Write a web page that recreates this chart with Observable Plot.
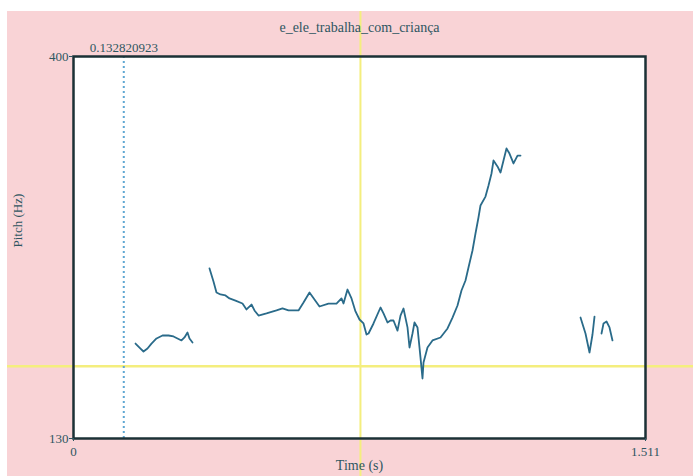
<!DOCTYPE html>
<html>
<head>
<meta charset="utf-8">
<script src="https://cdn.jsdelivr.net/npm/d3@7"></script>
<script src="https://cdn.jsdelivr.net/npm/@observablehq/plot@0.6"></script>
<style>
  html, body { margin: 0; padding: 0; background: #fff; }
  #chart svg {
    display: block;
    overflow: visible !important;
    background:
      linear-gradient(#fff, #fff) 0 0 / 100% 11px no-repeat,
      linear-gradient(#fff, #fff) 0 0 / 7px 100% no-repeat,
      #f9d3d6 !important;
    font-family: 'Liberation Serif', 'DejaVu Serif', serif !important;
    color: #2e5661 !important;
  }
  #chart svg text { font-family: 'Liberation Serif', 'DejaVu Serif', serif !important; }
</style>
</head>
<body>
<div id="chart"></div>
<script>
// ---- data ----
const title = "e_ele_trabalha_com_criança";
const xDomain = [0, 1.511];
const yDomain = [130, 400];
const xTicks = [0, 1.511];
const yTicks = [130, 400];
const selectionTime = 0.132820923;
const selectionLabel = "0.132820923";
const cursorTime = 0.758;
const cursorPitch = 181;

const seg1Time  = [0.1638, 0.1770, 0.1849, 0.1955, 0.2060, 0.2193, 0.2351, 0.2510, 0.2642, 0.2747, 0.2853, 0.2932, 0.3011, 0.3064, 0.3144];
const seg1Pitch = [197.1, 193.6, 191.5, 193.6, 197.1, 200.7, 202.8, 202.8, 202.1, 200.7, 199.3, 201.4, 204.9, 200.7, 197.9];

const seg2Time  = [0.3593, 0.3698, 0.3777, 0.3883, 0.4015, 0.4121, 0.4279, 0.4464, 0.4570, 0.4702, 0.4781, 0.4887, 0.5098, 0.5362, 0.5521, 0.5679, 0.5944, 0.6076, 0.6234, 0.6366, 0.6498, 0.6736, 0.6947, 0.7079, 0.7132, 0.7238, 0.7344, 0.7449, 0.7555, 0.7661, 0.7740, 0.7793, 0.7925, 0.8110, 0.8189, 0.8294, 0.8374, 0.8453, 0.8559, 0.8638, 0.8717, 0.8823, 0.8876, 0.8955, 0.9008, 0.9087, 0.9166, 0.9219, 0.9246, 0.9351, 0.9483, 0.9695, 0.9880, 1.0012, 1.0144, 1.0249, 1.0355, 1.0434, 1.0540, 1.0619, 1.0698, 1.0751, 1.0883, 1.0963, 1.1042, 1.1095, 1.1200, 1.1280, 1.1359, 1.1438, 1.1517, 1.1623, 1.1729, 1.1808];
const seg2Pitch = [250.2, 241.0, 233.2, 231.8, 231.1, 229.0, 227.5, 225.4, 221.2, 224.7, 220.5, 216.9, 218.4, 220.5, 221.9, 220.5, 220.5, 226.1, 233.2, 228.2, 223.3, 225.4, 225.4, 229.0, 225.4, 235.3, 229.0, 219.8, 214.1, 211.3, 203.5, 204.2, 211.3, 222.6, 218.4, 212.0, 213.4, 213.4, 206.3, 216.9, 221.9, 208.5, 194.3, 204.2, 212.0, 208.5, 187.3, 172.4, 183.7, 194.3, 199.3, 201.4, 207.8, 215.5, 224.0, 234.6, 241.7, 250.9, 262.9, 274.9, 286.2, 294.7, 301.0, 308.8, 317.3, 326.5, 322.3, 318.0, 326.5, 335.0, 331.4, 324.4, 330.0, 330.0];

const seg3Time  = [1.3393, 1.3525, 1.3631, 1.3710, 1.3763];
const seg3Pitch = [215.5, 204.2, 190.8, 203.5, 216.2];

const seg4Time  = [1.3948, 1.4001, 1.4080, 1.4159, 1.4238];
const seg4Pitch = [204.2, 211.3, 212.7, 208.5, 199.3];

// ---- build table ----
const segments = [[seg1Time, seg1Pitch], [seg2Time, seg2Pitch], [seg3Time, seg3Pitch], [seg4Time, seg4Pitch]];
const rows = segments.flatMap(([ts, fs], i) => ts.map((t, j) => ({seg: i, t, f: fs[j]})));

const ink = "#2e5661";
const chart = Plot.plot({
  width: 693,
  height: 476,
  marginLeft: 73,
  marginRight: 48,
  marginTop: 56,
  marginBottom: 38,
  x: {domain: xDomain},
  y: {domain: yDomain},
  marks: [
    Plot.frame({fill: "white", stroke: null}),
    Plot.ruleX([cursorTime], {stroke: "#f4ee7e", strokeWidth: 2, insetTop: -45, insetBottom: -38}),
    Plot.ruleY([cursorPitch], {stroke: "#f4ee7e", strokeWidth: 2.5, insetLeft: -66, insetRight: -48}),
    Plot.ruleX([selectionTime], {stroke: "#5ea7d2", strokeWidth: 2, strokeDasharray: "2,3"}),
    Plot.line(rows, {x: "t", y: "f", z: "seg", stroke: "#2a6b8a", strokeWidth: 1.8, strokeLinejoin: "round"}),
    Plot.frame({stroke: "#1b3136", strokeWidth: 2.5}),
    Plot.axisY({ticks: yTicks, tickSize: 4, tickPadding: 1, label: null, fontSize: 13, color: ink}),
    Plot.axisX({ticks: xTicks, tickFormat: d => String(d), tickSize: 3, tickPadding: 5, label: null, fontSize: 13, color: ink}),
    Plot.text([title], {frameAnchor: "top", dy: -34, fontSize: 14, fill: ink}),
    Plot.text([selectionTime], {x: d => d, text: () => selectionLabel, frameAnchor: "top", dy: -14, fontSize: 13, fill: ink}),
    Plot.text(["Time (s)"], {frameAnchor: "bottom", dy: 31, fontSize: 14, fill: ink}),
    Plot.text(["Pitch (Hz)"], {frameAnchor: "left", dx: -56, rotate: -90, fontSize: 13, fill: ink})
  ]
});
document.getElementById("chart").appendChild(chart);
</script>
</body>
</html>
